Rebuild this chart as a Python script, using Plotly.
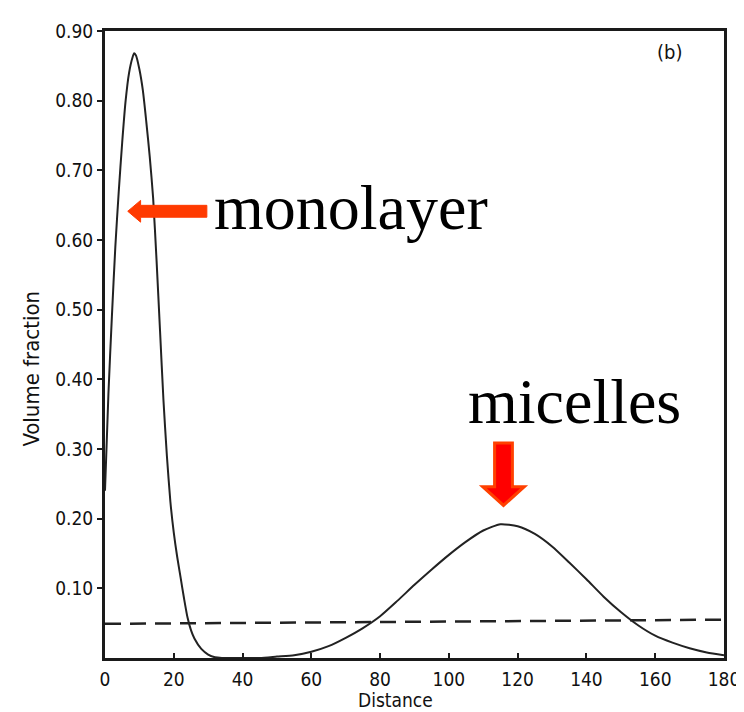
import plotly.graph_objects as go

# ---- data ----
distance = [0, 1, 2, 3, 4, 5, 6, 7, 8, 8.5, 9, 10, 11, 12, 13, 14, 15, 16, 17, 18,
            19, 20, 21, 22, 23, 24, 25, 26, 28, 30, 32, 34, 40, 45, 50, 55, 60, 65,
            70, 75, 80, 85, 90, 95, 100, 105, 110, 115, 120, 125, 130, 135, 140,
            145, 150, 155, 160, 165, 170, 175, 180]
volume_fraction = [0.24, 0.38, 0.49, 0.59, 0.67, 0.74, 0.80, 0.84, 0.862, 0.868, 0.865,
                   0.845, 0.815, 0.77, 0.72, 0.66, 0.57, 0.47, 0.37, 0.29, 0.225,
                   0.18, 0.145, 0.115, 0.085, 0.058, 0.04, 0.028, 0.013, 0.005, 0.001,
                   0.0, 0.0, 0.0, 0.002, 0.004, 0.009, 0.017, 0.029, 0.043, 0.06,
                   0.082, 0.105, 0.127, 0.148, 0.167, 0.183, 0.192, 0.189, 0.178,
                   0.16, 0.137, 0.113, 0.088, 0.066, 0.047, 0.032, 0.022, 0.014,
                   0.008, 0.004]
reference_x = [0, 180]
reference_y = [0.049, 0.055]

x_ticks = [0, 20, 40, 60, 80, 100, 120, 140, 160, 180]
y_ticks = [0.10, 0.20, 0.30, 0.40, 0.50, 0.60, 0.70, 0.80, 0.90]
y_tick_labels = ["0.10", "0.20", "0.30", "0.40", "0.50", "0.60", "0.70", "0.80", "0.90"]

# ---- layout geometry (pixels) ----
W, H = 744, 712
L, R, T, B = 97, 723, 17, 650
XMAX, YMAX = 180, 0.9


def px2x(px):
    return (px - L) / (R - L) * XMAX


def px2y(py):
    return (B - py) / (B - T) * YMAX


def path(points):
    return "M " + " L ".join(f"{px2x(a)},{px2y(b)}" for a, b in points) + " Z"


tick_font = dict(family="Liberation Sans Narrow, DejaVu Sans Condensed, sans-serif",
                 size=19, color="#111")
title_font = dict(family="DejaVu Sans Condensed, Liberation Sans Narrow, sans-serif",
                  size=19, color="#111")
serif = dict(family="Liberation Serif, Times New Roman, serif", size=64, color="black")

fig = go.Figure()
fig.add_trace(go.Scatter(x=distance, y=volume_fraction, mode="lines",
                         line=dict(color="#222", width=2, shape="spline", smoothing=0.6),
                         hoverinfo="skip", showlegend=False))
fig.add_trace(go.Scatter(x=reference_x, y=reference_y, mode="lines",
                         line=dict(color="#222", width=2.5, dash="16px,9px"),
                         hoverinfo="skip", showlegend=False))

shapes = [
    # monolayer arrow (points left)
    dict(type="path", xref="x", yref="y",
         path=path([(120, 199), (133, 188), (133, 193), (200, 193), (200, 205),
                    (133, 205), (133, 210)]),
         fillcolor="#FF3A00", line=dict(color="#FF3A00", width=1)),
    # micelles arrow (points down)
    dict(type="path", xref="x", yref="y",
         path=path([(491, 433), (509, 433), (509, 477), (521, 477), (500, 496),
                    (479, 477), (491, 477)]),
         fillcolor="#FF0000", line=dict(color="#FF4000", width=3)),
]

annotations = [
    dict(text="monolayer", x=px2x(205), y=px2y(195), xref="x", yref="y",
         xanchor="left", yanchor="middle", showarrow=False, font=serif),
    dict(text="micelles", x=px2x(462), y=px2y(391), xref="x", yref="y",
         xanchor="left", yanchor="middle", showarrow=False, font=serif),
    dict(text="(b)", x=px2x(668), y=px2y(38), xref="x", yref="y",
         xanchor="center", yanchor="middle", showarrow=False,
         font=dict(family=title_font["family"], size=20, color="#111")),
    dict(text="Distance", x=(391 - L) / (R - L), y=(B - 692) / (B - T),
         xref="paper", yref="paper", xanchor="center", yanchor="middle",
         showarrow=False, font=title_font),
    dict(text="Volume fraction", x=(23 - L) / (R - L), y=(B - 358) / (B - T),
         xref="paper", yref="paper", xanchor="center", yanchor="middle",
         textangle=-90, showarrow=False,
         font=dict(family=title_font["family"], size=22, color="#111")),
]

fig.update_layout(
    width=W, height=H,
    margin=dict(l=L, r=W - R, t=T, b=H - B, pad=0),
    paper_bgcolor="white", plot_bgcolor="white",
    shapes=shapes, annotations=annotations,
    xaxis=dict(range=[0, XMAX], tickvals=x_ticks, ticktext=[str(v) for v in x_ticks],
               showgrid=False, zeroline=False, showline=True, linecolor="#1a1a1a",
               linewidth=3, mirror=True, ticks="inside", ticklen=5, tickwidth=1.5,
               tickcolor="#1a1a1a", tickfont=tick_font, ticklabelstandoff=2),
    yaxis=dict(range=[0, YMAX], tickvals=y_ticks, ticktext=y_tick_labels,
               showgrid=False, zeroline=False, showline=True, linecolor="#1a1a1a",
               linewidth=3, mirror=True, ticks="outside", ticklen=5, tickwidth=1.5,
               tickcolor="#1a1a1a", tickfont=tick_font, ticklabelstandoff=0),
)

fig.write_html("out.html")
